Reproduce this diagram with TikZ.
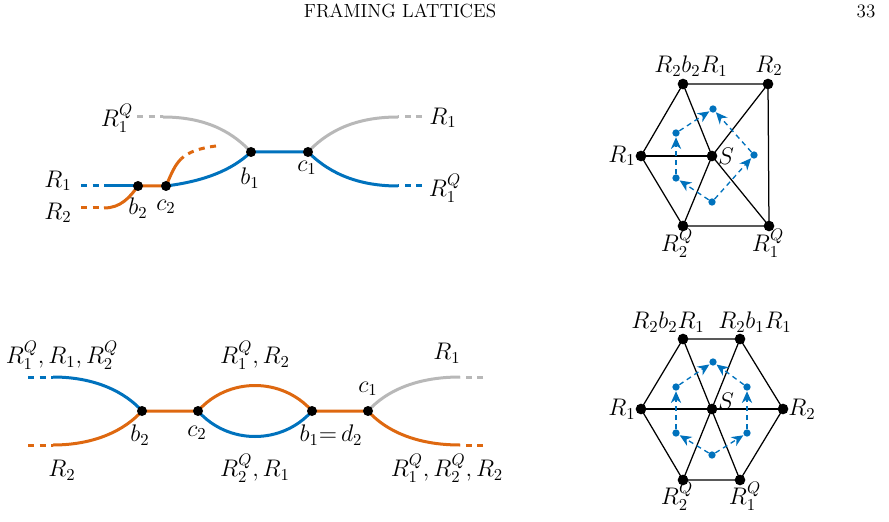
\documentclass[tikz,border=0pt]{standalone}
\usetikzlibrary{arrows.meta,backgrounds}
\definecolor{mblue}{RGB}{0,114,189}
\definecolor{morange}{RGB}{222,104,16}
\definecolor{mgray}{RGB}{184,184,184}
\tikzset{
  strand/.style={line width=1.8pt},
  dashend/.style={line width=1.8pt, dash pattern=on 3.6pt off 3.3pt},
  dot/.style={circle, fill=black, inner sep=0pt, minimum size=6pt},
  hdot/.style={circle, fill=black, inner sep=0pt, minimum size=6.4pt},
  bdot/.style={circle, fill=mblue, inner sep=0pt, minimum size=4.4pt},
  hedge/.style={line width=0.75pt},
  dual/.style={mblue, line width=0.8pt, dash pattern=on 3pt off 2.4pt,
    -{Stealth[length=7pt,width=6.2pt,inset=2.2pt]}, shorten >=0.2pt},
  lab/.style={font=\fontsize{13.6}{16}\selectfont, inner sep=0pt},
  hdr/.style={font=\fontsize{11.4}{14}\selectfont, inner sep=0pt}
}
\begin{document}
\begin{tikzpicture}[x=0.6pt,y=-0.6pt]
\useasboundingbox (0,0) rectangle (889,522);
% header
\node[hdr] (title) at (400,11) {FRAMING LATTICES};
\node[hdr] (page) at (866,11) {33};

% ---------- top-left diagram ----------
\node[dot] (tb2) at (138,186) {};
\node[dot] (tc2) at (166,186) {};
\node[dot] (tb1) at (251,152) {};
\node[dot] (tc1) at (308,152) {};
\coordinate (tgL) at (163,117); \coordinate (tgLe) at (137,117);
\coordinate (tgR) at (398,117); \coordinate (tgRe) at (422,117);
\coordinate (tbL) at (104,186); \coordinate (tbLe) at (81,186);
\coordinate (tbR) at (398,186); \coordinate (tbRe) at (422,186);
\coordinate (toL) at (104,208); \coordinate (toLe) at (81,208);
\coordinate (toU) at (181,159); \coordinate (toUe) at (216,146);
\begin{scope}[on background layer]
\draw[strand,mgray] (tgL) .. controls (210,117) and (235,135) .. (tb1.center);
\draw[dashend,mgray] (tgLe) -- (tgL);
\draw[strand,mgray] (tc1.center) .. controls (324,135) and (350,117) .. (tgR);
\draw[dashend,mgray] (tgRe) -- (tgR);
\draw[strand,mblue] (tbL) -- (tb2.center);
\draw[dashend,mblue] (tbLe) -- (tbL);
\draw[strand,mblue] (tc2.center) .. controls (205,181) and (232,170) .. (tb1.center)
   -- (tc1.center) .. controls (325,169) and (352,186) .. (tbR);
\draw[dashend,mblue] (tbRe) -- (tbR);
\draw[strand,morange] (toL) .. controls (121,208) and (130,197) .. (tb2.center)
   -- (tc2.center) .. controls (172,172) and (175,165) .. (toU);
\draw[dashend,morange] (toUe) .. controls (200,148) and (188,152) .. (toU);
\draw[dashend,morange] (toLe) -- (toL);
\end{scope}
\node[lab] (tl1) at (117,118) {$R_1^Q$};
\node[lab] (tl2) at (443,118) {$R_1$};
\node[lab] (tl3) at (445,188) {$R_1^Q$};
\node[lab] (tl4) at (58,181) {$R_1$};
\node[lab] (tl5) at (58,213) {$R_2$};
\node[lab] (tl6) at (138,208) {$b_2$};
\node[lab] (tl7) at (166,207) {$c_2$};
\node[lab] (tl8) at (250,178) {$b_1$};
\node[lab] (tl9) at (307,168) {$c_1$};

% ---------- bottom-left diagram ----------
\node[dot] (bb2) at (142,411) {};
\node[dot] (bc2) at (198,411) {};
\node[dot] (bb1) at (312,411) {};
\node[dot] (bc1) at (368,411) {};
\coordinate (bbL) at (53,377); \coordinate (bbLe) at (28,377);
\coordinate (boL) at (53,445); \coordinate (boLe) at (28,445);
\coordinate (bgR) at (460,377); \coordinate (bgRe) at (483,377);
\coordinate (boR) at (460,445); \coordinate (boRe) at (483,445);
\begin{scope}[on background layer]
\draw[strand,mblue] (bbL) .. controls (95,377) and (125,392) .. (bb2.center);
\draw[dashend,mblue] (bbLe) -- (bbL);
\draw[strand,morange] (boL) .. controls (95,445) and (125,430) .. (bb2.center)
  -- (bc2.center) .. controls (228,377) and (282,377) .. (bb1.center)
  -- (bc1.center) .. controls (385,430) and (415,445) .. (boR);
\draw[dashend,morange] (boLe) -- (boL);
\draw[dashend,morange] (boRe) -- (boR);
\draw[strand,mblue] (bc2.center) .. controls (228,445) and (282,445) .. (bb1.center);
\draw[strand,mgray] (bc1.center) .. controls (385,392) and (415,377) .. (bgR);
\draw[dashend,mgray] (bgRe) -- (bgR);
\end{scope}
\node[lab] (bl1) at (62,355) {$R_1^Q,R_1,R_2^Q$};
\node[lab] (bl2) at (62,470) {$R_2$};
\node[lab] (bl3) at (255,355) {$R_1^Q,R_2$};
\node[lab] (bl4) at (255,468) {$R_2^Q,R_1$};
\node[lab] (bl5) at (140,435) {$b_2$};
\node[lab] (bl6) at (197,433) {$c_2$};
\node[lab] (bl7) at (331,435) {$b_1{=}\,d_2$};
\node[lab] (bl8) at (368,389) {$c_1$};
\node[lab] (bl9) at (447,353) {$R_1$};
\node[lab] (bl10) at (447,468) {$R_1^Q,R_2^Q,R_2$};

% ---------- top-right hexagon ----------
\node[hdot] (hA) at (683,84) {};
\node[hdot] (hB) at (768,84) {};
\node[hdot] (hR) at (641,156) {};
\node[hdot] (hS) at (712,156) {};
\node[hdot] (hD) at (683,226) {};
\node[hdot] (hC) at (769,226) {};
\begin{scope}[on background layer]
\draw[hedge] (hR.center) -- (hA.center) -- (hB.center) -- (hC.center) -- (hD.center) -- (hR.center);
\draw[hedge] (hR.center) -- (hS.center);
\draw[hedge] (hA.center) -- (hS.center);
\draw[hedge] (hB.center) -- (hS.center);
\draw[hedge] (hC.center) -- (hS.center);
\draw[hedge] (hD.center) -- (hS.center);
\end{scope}
\node[bdot] (ht) at (713,109) {};
\node[bdot] (hul) at (676,133) {};
\node[bdot] (hr) at (754,155) {};
\node[bdot] (hll) at (676,178) {};
\node[bdot] (hbo) at (712,202) {};
\draw[dual] (hll) -- (hul);
\draw[dual] (hul) -- (ht);
\draw[dual] (hr) -- (ht);
\draw[dual] (hbo) -- (hr);
\draw[dual] (hbo) -- (hll);
\node[lab] (hl1) at (691,66) {$R_2b_2R_1$};
\node[lab] (hl2) at (769,66) {$R_2$};
\node[lab] (hl3) at (622,156) {$R_1$};
\node[lab] (hl4) at (726,156) {$S$};
\node[lab] (hl5) at (677,243) {$R_2^Q$};
\node[lab] (hl6) at (768,243) {$R_1^Q$};

% ---------- bottom-right hexagon ----------
\node[hdot] (kA) at (683,339) {};
\node[hdot] (kB) at (740,339) {};
\node[hdot] (kR) at (641,409) {};
\node[hdot] (kS) at (712,409) {};
\node[hdot] (kT) at (783,409) {};
\node[hdot] (kD) at (683,480) {};
\node[hdot] (kC) at (740,480) {};
\begin{scope}[on background layer]
\draw[hedge] (kR.center) -- (kA.center) -- (kB.center) -- (kT.center) -- (kC.center) -- (kD.center) -- (kR.center);
\draw[hedge] (kR.center) -- (kT.center);
\draw[hedge] (kA.center) -- (kC.center);
\draw[hedge] (kB.center) -- (kD.center);
\end{scope}
\node[bdot] (kt) at (713,362) {};
\node[bdot] (kul) at (676,387) {};
\node[bdot] (kur) at (747,387) {};
\node[bdot] (kll) at (676,433) {};
\node[bdot] (klr) at (747,433) {};
\node[bdot] (kbo) at (712,455) {};
\draw[dual] (kll) -- (kul);
\draw[dual] (kul) -- (kt);
\draw[dual] (kur) -- (kt);
\draw[dual] (klr) -- (kur);
\draw[dual] (kbo) -- (kll);
\draw[dual] (kbo) -- (klr);
\node[lab] (kl1) at (668,322) {$R_2b_2R_1$};
\node[lab] (kl2) at (755,322) {$R_2b_1R_1$};
\node[lab] (kl3) at (622,409) {$R_1$};
\node[lab] (kl4) at (802,409) {$R_2$};
\node[lab] (kl5) at (726,401) {$S$};
\node[lab] (kl6) at (677,496) {$R_2^Q$};
\node[lab] (kl7) at (745,496) {$R_1^Q$};
\end{tikzpicture}
\end{document}
